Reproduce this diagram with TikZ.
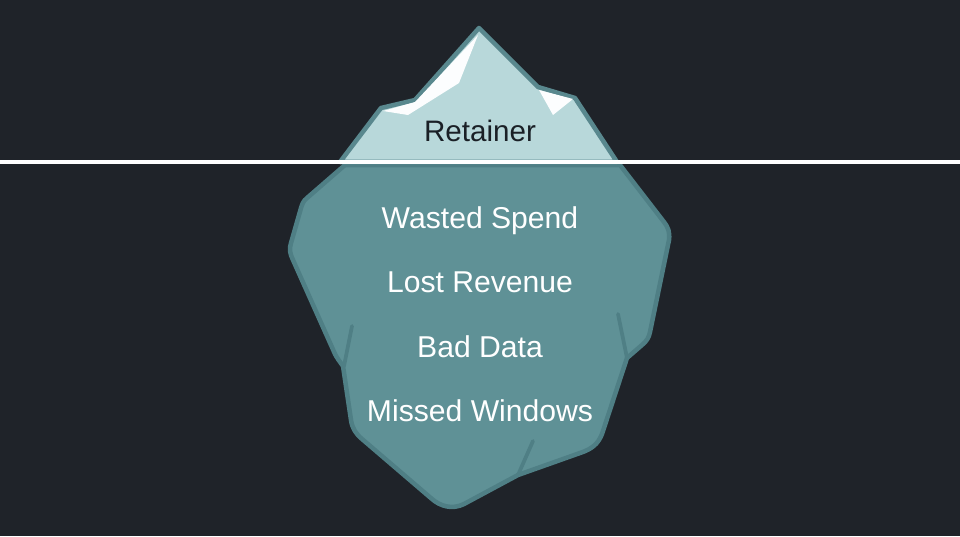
\documentclass[tikz,border=0pt]{standalone}
\usepackage{fontspec}
\setmainfont{Liberation Sans}
\usepackage{tikz}
\definecolor{nightbg}{HTML}{1F2329}
\definecolor{icelight}{HTML}{B8D8DA}
\definecolor{icedeep}{HTML}{5F9196}
\definecolor{iceedge}{HTML}{4F7F85}
\definecolor{inktext}{HTML}{1A2026}
\tikzset{tipface/.style={fill=icelight, draw=iceedge!90!icelight, line width=3.4pt, line join=round}}
\tikzset{bodyface/.style={fill=icedeep, draw=iceedge, line width=3.4pt, line join=round}}
\tikzset{snow/.style={fill=white!96!icelight}}
\tikzset{crack/.style={draw=iceedge, line width=2.8pt, line cap=round}}
\tikzset{waterline/.style={draw=white, line width=3pt}}
\tikzset{hidden/.style={anchor=base, text=white, font=\fontsize{22.6}{26}\selectfont}}
\tikzset{shown/.style={anchor=base, text=inktext, font=\fontsize{22.2}{26}\selectfont}}

\begin{document}
\begin{tikzpicture}[x=0.75pt,y=-0.75pt]
\fill[nightbg] (0,0) rectangle (960,536);
\useasboundingbox (0,0) rectangle (960,536);
%under water
\path[bodyface] (345,165)--(307,198) .. controls (303,201) and (302,205) .. (301,208)--(291,243) .. controls (289,249) and (290,254) .. (293,260)--(335,354) .. controls (337,358) and (340,362) .. (343,366)--(351,420) .. controls (352,428) and (356,434) .. (362,439)--(432,499) .. controls (440,506) and (452,510) .. (464,504)--(518,475)--(580,453) .. controls (592,449) and (598,444) .. (602,434)--(627,358)--(642,345) .. controls (647,341) and (649,337) .. (650,332)--(669,240) .. controls (670,232) and (668,227) .. (664,222)--(620,165)--cycle;
\draw[crack] (352,326)--(344,366);
\draw[crack] (618,314)--(627,358);
\draw[crack] (533,441)--(518,475);
%above water
\path[tipface] (340,162)--(381,108)--(415,100)--(479,28)--(538,87)--(575,98)--(617,162)--cycle;
\fill[snow] (478,35)--(459,83)--(408,115)--(383,111)--(415,102)--cycle;
\fill[snow] (539,90)--(573,99)--(553,115)--cycle;
\draw[waterline] (0,162)--(960,162);
%labels
\node (retainer) at (480,141)[shown]{Retainer};
\node (wasted) at (480,228)[hidden]{Wasted Spend};
\node (lost) at (480,292)[hidden]{Lost Revenue};
\node (bad) at (480,357)[hidden]{Bad Data};
\node (missed) at (480,421.5)[hidden]{Missed Windows};
\end{tikzpicture}
\end{document}
